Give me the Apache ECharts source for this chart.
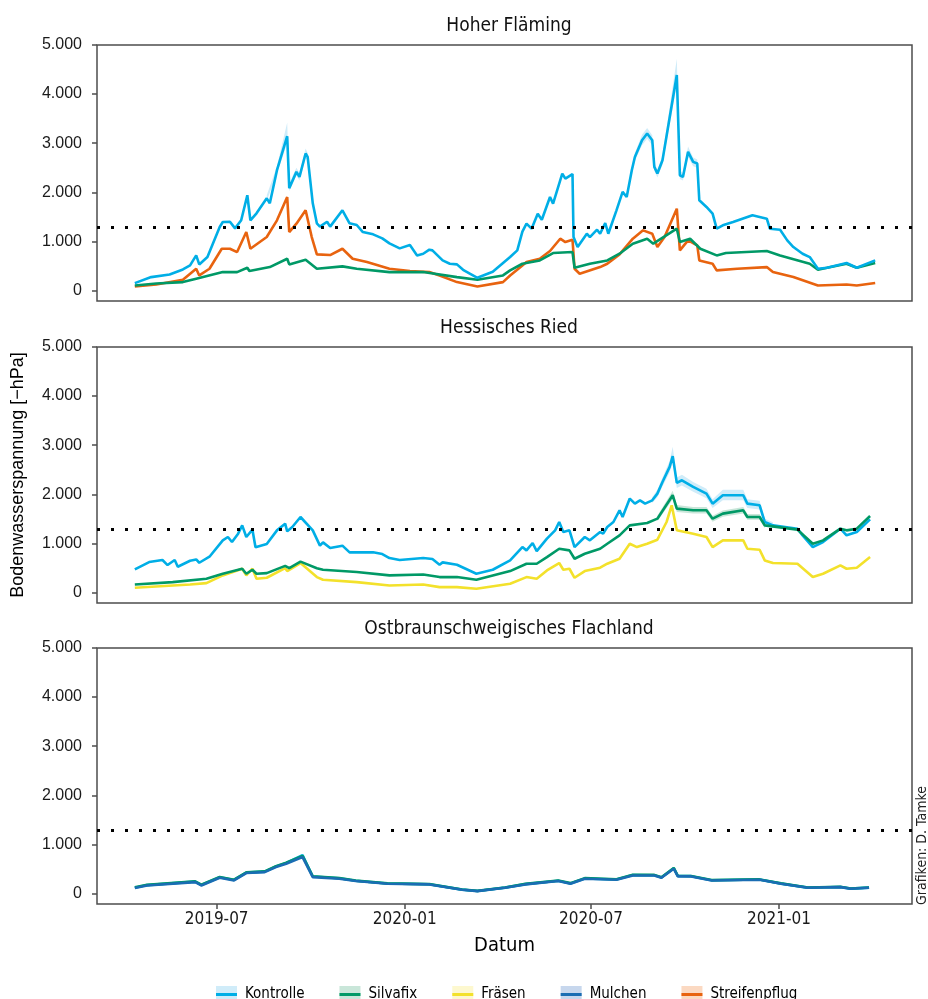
<!DOCTYPE html>
<html>
<head>
<meta charset="utf-8">
<script src="https://cdn.jsdelivr.net/npm/echarts@6/dist/echarts.min.js"></script>
<style>
  html, body { margin: 0; padding: 0; background: #fff; }
  #chartsdiv { width: 928px; height: 999px; }
</style>
</head>
<body>
<div id="chartsdiv"></div>
<script>
// Tage seit 2019-04-01, Wert in hPa
var hfKontrolle = [[11,149],[27,272],[45,326],[58,428],[65,510],[71,714],[74,530],[82,680],[94,1292],[97,1394],[104,1400],[109,1265],[115,1430],[121,1939],[124,1428],[130,1571],[140,1877],[143,1775],[150,2449],[160,3142],[162,2082],[169,2415],[172,2313],[178,2790],[180,2721],[185,1775],[189,1367],[192,1300],[199,1400],[202,1300],[214,1632],[221,1367],[228,1333],[234,1190],[244,1143],[253,1061],[260,959],[270,857],[280,925],[287,714],[293,748],[299,830],[302,816],[312,612],[319,544],[326,531],[332,420],[346,258],[361,380],[378,680],[385,816],[390,1200],[394,1360],[399,1258],[405,1564],[409,1440],[417,1904],[420,1769],[429,2381],[432,2279],[439,2370],[440,1088],[444,884],[453,1156],[456,1088],[463,1238],[466,1156],[471,1374],[474,1156],[482,1632],[488,2007],[492,1904],[497,2449],[500,2720],[507,3061],[512,3197],[517,3061],[519,2517],[522,2381],[527,2653],[541,4388],[544,2347],[547,2313],[552,2823],[557,2619],[561,2585],[563,1836],[570,1700],[576,1564],[580,1258],[586,1326],[596,1394],[615,1530],[629,1462],[632,1258],[642,1238],[649,1020],[655,884],[664,748],[671,680],[679,442],[688,462],[707,558],[717,462],[735,612]];
var hfSilvafix = [[11,102],[32,143],[58,170],[71,238],[97,374],[111,374],[121,462],[123,395],[143,476],[160,646],[162,530],[178,626],[189,442],[214,490],[228,442],[260,374],[293,374],[326,272],[346,218],[371,306],[378,408],[390,544],[407,612],[420,762],[439,782],[441,462],[456,544],[473,612],[485,748],[498,952],[512,1054],[518,952],[541,1258],[544,986],[554,1054],[564,850],[580,714],[589,762],[629,803],[642,714],[671,544],[679,422],[688,462],[707,544],[717,462],[735,558]];
var hfStreifen = [[11,82],[32,122],[58,218],[71,442],[74,306],[84,442],[96,850],[104,850],[111,782],[120,1190],[124,850],[140,1088],[150,1428],[160,1904],[162,1190],[169,1360],[178,1632],[184,1088],[189,735],[202,721],[214,850],[224,646],[238,578],[260,442],[280,395],[299,374],[309,306],[326,170],[346,82],[371,170],[378,306],[390,510],[394,578],[407,646],[417,803],[427,1054],[432,986],[439,1034],[441,442],[446,340],[466,476],[473,544],[485,735],[498,1054],[508,1224],[517,1156],[522,884],[529,1088],[541,1666],[544,816],[552,1020],[561,918],[563,612],[576,544],[580,408],[600,442],[629,476],[635,374],[655,272],[679,102],[707,122],[717,102],[735,150]];

var hrKontrolle = [[11,469],[25,619],[38,660],[43,558],[50,660],[53,524],[65,646],[71,673],[74,605],[84,728],[97,1061],[102,1129],[106,1027],[112,1197],[116,1367],[120,1129],[126,1279],[129,919],[140,987],[150,1265],[158,1401],[160,1245],[165,1333],[173,1537],[185,1265],[192,953],[195,1020],[202,905],[214,953],[221,817],[244,817],[253,783],[260,701],[270,660],[293,701],[302,680],[309,565],[312,612],[326,565],[345,380],[361,462],[378,653],[390,924],[394,857],[400,1007],[404,843],[414,1095],[422,1265],[426,1435],[430,1231],[436,1265],[441,924],[451,1129],[456,1061],[466,1231],[469,1197],[473,1333],[479,1435],[485,1673],[488,1537],[495,1912],[500,1809],[505,1877],[510,1809],[517,1877],[522,2013],[527,2251],[534,2557],[537,2776],[541,2231],[546,2285],[557,2149],[570,2013],[576,1809],[586,1979],[606,1979],[610,1809],[622,1775],[627,1435],[635,1367],[659,1299],[664,1163],[674,924],[684,1027],[701,1299],[707,1163],[717,1231],[730,1489]];
var hrSilvafix = [[11,163],[48,210],[81,278],[97,381],[116,483],[120,381],[126,462],[130,381],[140,394],[158,541],[162,494],[173,628],[189,494],[195,462],[228,415],[260,347],[293,367],[309,313],[326,313],[345,258],[378,435],[394,585],[404,585],[414,721],[426,891],[436,857],[441,687],[451,789],[466,891],[473,993],[485,1163],[495,1367],[512,1414],[522,1503],[537,1980],[541,1707],[557,1673],[570,1673],[576,1503],[586,1605],[606,1673],[610,1537],[622,1537],[627,1367],[659,1279],[674,993],[684,1061],[701,1299],[707,1265],[717,1299],[730,1557]];
var hrFraesen = [[11,95],[65,163],[81,190],[97,347],[116,483],[120,347],[126,483],[130,278],[140,299],[158,494],[160,435],[173,599],[189,313],[195,258],[228,210],[260,143],[293,163],[309,109],[326,109],[345,75],[378,177],[394,313],[404,278],[414,449],[426,599],[430,462],[436,483],[441,299],[451,435],[466,504],[473,585],[485,687],[495,993],[502,924],[512,993],[522,1075],[531,1435],[536,1775],[541,1265],[557,1197],[570,1129],[576,924],[586,1061],[606,1061],[610,891],[622,871],[627,653],[635,599],[659,585],[674,313],[684,381],[701,551],[707,483],[717,504],[730,721]];

var ofKontrolle = [[11,118],[23,170],[70,240],[76,172],[94,330],[108,275],[120,425],[138,445],[149,550],[159,620],[175,780],[185,345],[211,308],[227,258],[258,202],[299,188],[331,78],[346,50],[373,118],[393,190],[425,258],[437,204],[451,306],[482,285],[498,375],[519,372],[526,326],[538,515],[542,354],[555,352],[575,270],[622,283],[643,200],[669,118],[701,132],[711,98],[729,118]];
var ofSilvafix = [[11,125],[23,175],[70,245],[76,180],[94,335],[108,280],[120,430],[138,450],[149,555],[159,625],[175,765],[185,350],[211,312],[227,262],[258,205],[299,190],[331,80],[346,52],[373,122],[393,195],[425,262],[437,210],[451,312],[482,290],[498,380],[519,378],[526,330],[538,520],[542,360],[555,356],[575,272],[622,286],[643,205],[669,120],[701,135],[711,100],[729,122]];
var ofMulchen = [[11,109],[23,163],[70,231],[76,163],[94,320],[108,265],[120,415],[138,435],[149,537],[159,605],[175,741],[185,333],[211,300],[227,252],[258,197],[299,184],[331,75],[346,48],[373,115],[393,184],[425,252],[437,197],[451,300],[482,279],[498,367],[519,367],[526,320],[538,503],[542,347],[555,347],[575,265],[622,279],[643,197],[669,115],[701,129],[711,95],[729,115]];

// Unsicherheitsbänder [Tag, unten, oben]
var hfKontrolleBand1 = [[140,1820,1940],[150,2380,2530],[160,3000,3420],[162,2020,2180],[169,2340,2500],[172,2240,2390],[178,2700,2890],[180,2640,2800],[185,1720,1830]];
var hfKontrolleBand2 = [[497,2380,2520],[500,2640,2800],[507,2960,3170],[512,3090,3310],[517,2960,3160],[519,2440,2600],[522,2300,2460],[527,2560,2740],[541,4180,4720],[544,2270,2440],[547,2240,2390],[552,2720,2930],[557,2530,2710],[561,2500,2670],[563,1780,1890]];
var hrKontrolleBand = [[517,1820,1940],[522,1940,2090],[527,2160,2340],[534,2450,2680],[537,2640,2970],[541,2130,2340],[546,2180,2400],[557,2050,2250],[570,1920,2110],[576,1720,1900],[586,1880,2090],[606,1880,2090],[610,1720,1900],[622,1690,1870],[627,1370,1500],[635,1310,1430]];
var hrSilvafixBand = [[522,1450,1560],[537,1900,2070],[541,1640,1780],[557,1610,1740],[570,1610,1740],[576,1440,1560],[586,1540,1670],[606,1610,1740],[610,1480,1600],[622,1480,1600],[627,1310,1420]];

var panelTitles = ['Hoher Fläming', 'Hessisches Ried', 'Ostbraunschweigisches Flachland'];
var legendNames = ['Kontrolle', 'Silvafix', 'Fräsen', 'Mulchen', 'Streifenpflug'];
var legendColors = ['#00aee6', '#009966', '#f3e12b', '#1a6db3', '#e8630f'];
var legendLight = ['#d0ecf9', '#c9e6d9', '#fdf8cf', '#c7d7ed', '#fbd9c2'];
var yTicks = [0, 1000, 2000, 3000, 4000, 5000];
var xTicks = ['2019-07-01', '2020-01-01', '2020-07-01', '2021-01-01'];
var schwelle = 1285;

var DAY = 86400000;
var base = Date.UTC(2019, 3, 1);
var cond = '"DejaVu Sans Condensed", "DejaVu Sans", sans-serif';
var arial = '"Liberation Sans", Arial, sans-serif';

// Datum -> Tage seit base
function tage(s) {
    var p = s.split('-');
    return Math.round((Date.UTC(+p[0], +p[1] - 1, +p[2]) - base) / DAY);
}
var xTickDays = xTicks.map(tage);

function farbe(name) {
    return legendColors[legendNames.indexOf(name)];
}
function hell(name) {
    return legendLight[legendNames.indexOf(name)];
}
function linie(name, data, idx, withMark) {
    var s = {
        name: name,
        type: 'line',
        xAxisIndex: idx,
        yAxisIndex: idx,
        data: data,
        showSymbol: false,
        symbol: 'none',
        silent: true,
        z: 3,
        lineStyle: { color: farbe(name), width: 2.6 },
        itemStyle: { color: farbe(name) }
    };
    if (withMark) {
        s.markLine = {
            silent: true,
            symbol: 'none',
            label: { show: false },
            lineStyle: { color: '#000', width: 3, type: [3, 11], cap: 'butt' },
            data: [{ yAxis: schwelle }]
        };
    }
    return s;
}
// Band als Polygon über die Achsen des Panels
function band(key, name, rows, idx) {
    return {
        name: key,
        type: 'custom',
        xAxisIndex: idx,
        yAxisIndex: idx,
        silent: true,
        z: 1,
        data: [[rows[0][0], rows[0][1]]],
        renderItem: function (params, api) {
            var oben = rows.map(function (r) { return api.coord([r[0], r[2]]); });
            var unten = rows.slice().reverse().map(function (r) { return api.coord([r[0], r[1]]); });
            return { type: 'polygon', shape: { points: oben.concat(unten) }, style: { fill: hell(name) } };
        }
    };
}

var myChart = echarts.init(document.getElementById('chartsdiv'));
var tops = [45, 347, 648];
var grids = [], xAxes = [], yAxes = [];
tops.forEach(function (t, i) {
    grids.push({ left: 97, right: 16, top: t, height: 256, show: true, borderColor: '#4d4d4d', borderWidth: 1.5, backgroundColor: 'transparent' });
    xAxes.push({
        type: 'value',
        gridIndex: i,
        min: -26,
        max: 771,
        axisLine: { show: false, onZero: false },
        splitLine: { show: false },
        axisTick: { show: i === 2, length: 5, lineStyle: { color: '#4d4d4d', width: 1.5 }, customValues: xTickDays },
        axisLabel: {
            show: i === 2,
            customValues: xTickDays,
            margin: 7,
            fontFamily: cond, fontSize: 17, color: '#1a1a1a',
            formatter: function (v) {
                var d = new Date(base + v * DAY);
                var m = d.getUTCMonth() + 1;
                return d.getUTCFullYear() + '-' + (m < 10 ? '0' + m : m);
            }
        },
        name: i === 2 ? 'Datum' : '',
        nameLocation: 'middle',
        nameGap: 32,
        nameTextStyle: { fontFamily: cond, fontSize: 20, color: '#000' }
    });
    yAxes.push({
        type: 'value',
        gridIndex: i,
        min: -215,
        max: 5000,
        axisLine: { show: false, onZero: false },
        splitLine: { show: false },
        axisTick: { show: true, length: 5, lineStyle: { color: '#4d4d4d', width: 1.5 }, customValues: yTicks },
        axisLabel: {
            customValues: yTicks,
            margin: 15,
            fontFamily: arial, fontSize: 16, color: '#1a1a1a',
            formatter: function (v) { return v === 0 ? '0' : (v / 1000) + '.000'; }
        },
        name: i === 1 ? 'Bodenwasserspannung [\u2212hPa]' : '',
        nameLocation: 'middle',
        nameGap: 70,
        nameTextStyle: { fontFamily: arial, fontSize: 18, color: '#000' }
    });
});

var series = [
    band('b1', 'Kontrolle', hfKontrolleBand1, 0),
    band('b2', 'Kontrolle', hfKontrolleBand2, 0),
    band('b3', 'Kontrolle', hrKontrolleBand, 1),
    band('b4', 'Silvafix', hrSilvafixBand, 1),
    linie('Streifenpflug', hfStreifen, 0, true),
    linie('Silvafix', hfSilvafix, 0, false),
    linie('Kontrolle', hfKontrolle, 0, false),
    linie('Kontrolle', hrKontrolle, 1, true),
    linie('Fräsen', hrFraesen, 1, false),
    linie('Silvafix', hrSilvafix, 1, false),
    linie('Kontrolle', ofKontrolle, 2, true),
    linie('Silvafix', ofSilvafix, 2, false),
    linie('Mulchen', ofMulchen, 2, false)
];

var legendText = { fontFamily: cond, fontSize: 15, lineHeight: 17, padding: [0, 0, 0, 3] };
var option = {
    backgroundColor: '#fff',
    animation: false,
    grid: grids,
    xAxis: xAxes,
    yAxis: yAxes,
    legend: [{
        top: 981, left: 211, itemGap: 35, itemWidth: 21, itemHeight: 17, icon: 'rect', selectedMode: false,
        textStyle: Object.assign({ color: '#000' }, legendText),
        data: legendNames.map(function (n, i) { return { name: n, icon: 'rect', itemStyle: { color: legendLight[i], borderWidth: 0 } }; })
    }, {
        top: 981, left: 211, itemGap: 35, itemWidth: 21, itemHeight: 3, icon: 'rect', selectedMode: false,
        textStyle: Object.assign({ color: 'rgba(0,0,0,0)' }, legendText),
        data: legendNames.map(function (n, i) { return { name: n, icon: 'rect', itemStyle: { color: legendColors[i], borderWidth: 0 } }; })
    }],
    graphic: panelTitles.map(function (t, i) {
        return { type: 'text', x: 509, y: tops[i] - 19, style: { text: t, fontFamily: cond, fontSize: 19, fill: '#111', align: 'center', verticalAlign: 'middle' } };
    }).concat([{
        type: 'text', x: 922, y: 905, rotation: Math.PI / 2,
        style: { text: 'Grafiken: D. Tamke', fontFamily: cond, fontSize: 14, fill: '#222', align: 'left', verticalAlign: 'middle' }
    }]),
    series: series
};
myChart.setOption(option);
</script>
</body>
</html>
